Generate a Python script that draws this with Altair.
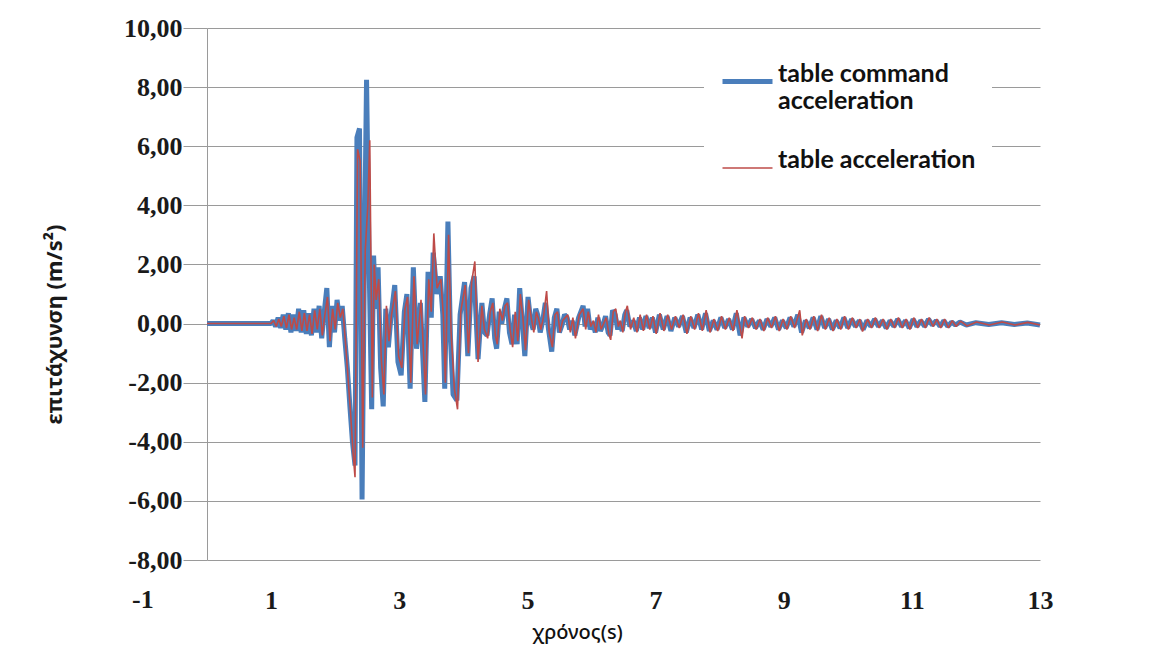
import altair as alt
import pandas as pd

# ---- data (time s, acceleration m/s^2) ----
cmd_samples = [
    (0.00, 0.0), (1.00, 0.0), (1.03, 0.1), (1.07, -0.1), (1.11, 0.2), (1.15, -0.15),
    (1.19, 0.3), (1.23, -0.2), (1.27, 0.35), (1.31, -0.3), (1.35, 0.3), (1.39, -0.25),
    (1.43, 0.5), (1.47, -0.3), (1.51, 0.45), (1.55, -0.35), (1.59, 0.35), (1.63, -0.4),
    (1.67, 0.5), (1.71, -0.3), (1.75, 0.6), (1.79, -0.5), (1.83, 0.4), (1.87, 1.2),
    (1.91, -0.8), (1.95, 0.6), (1.99, -0.3), (2.03, 0.8), (2.07, 0.1), (2.11, 0.6),
    (2.15, -0.5), (2.19, -1.5), (2.23, -2.8), (2.27, -4.0), (2.31, -4.8), (2.34, 6.3),
    (2.38, 6.6), (2.42, -5.95), (2.46, 3.0), (2.49, 8.25), (2.53, 2.0), (2.57, -2.9),
    (2.60, 2.3), (2.63, 0.5), (2.67, 1.9), (2.71, -1.5), (2.75, -2.8), (2.79, 0.5),
    (2.83, -0.8), (2.87, 0.2), (2.93, 1.3), (2.98, -1.3), (3.03, -1.75), (3.08, 0.4),
    (3.12, 1.0), (3.17, -2.2), (3.22, 1.9), (3.27, -0.85), (3.33, 0.7), (3.40, -2.65),
    (3.45, 1.75), (3.50, 0.2), (3.53, 2.4), (3.59, 1.0), (3.64, 1.6), (3.68, 0.3),
    (3.71, -2.2), (3.76, 3.45), (3.80, -0.5), (3.84, -2.4), (3.90, -2.6), (3.95, 0.3),
    (4.02, 1.4), (4.07, -1.1), (4.12, 1.2), (4.17, 1.6), (4.23, -1.2), (4.29, 0.7),
    (4.33, -0.3), (4.37, -0.4), (4.41, 0.3), (4.45, 0.85), (4.49, -0.5), (4.52, -0.85),
    (4.56, 0.4), (4.60, 0.0), (4.64, 0.5), (4.68, 0.85), (4.72, -0.3), (4.76, -0.7),
    (4.80, 0.3), (4.84, -0.7), (4.88, 1.2), (4.92, 0.1), (4.96, -1.1), (5.01, 0.9),
    (5.05, 0.1), (5.09, -0.2), (5.13, 0.5), (5.16, 0.3), (5.20, -0.3), (5.24, 0.1),
    (5.28, 0.7), (5.33, -0.2), (5.38, -0.95), (5.42, 0.2), (5.46, 0.5), (5.50, -0.3),
    (5.54, -0.05), (5.58, 0.3), (5.62, 0.2), (5.66, -0.2), (5.70, 0.1), (5.74, -0.4),
    (5.80, 0.2), (5.87, 0.6), (5.90, -0.1), (5.94, 0.5), (5.98, -0.2), (6.02, 0.05),
    (6.06, -0.3), (6.10, 0.2), (6.14, -0.25), (6.18, -0.05), (6.22, 0.25), (6.26, -0.3),
    (6.29, -0.4), (6.33, 0.45), (6.37, 0.3), (6.41, -0.2), (6.44, 0.05), (6.48, -0.25),
    (6.52, 0.3), (6.55, 0.45), (6.60, -0.1), (6.65, 0.1), (6.70, -0.25), (6.75, 0.2),
    (6.80, -0.2), (6.85, 0.25), (6.90, -0.15), (6.95, 0.2), (7.00, -0.3), (7.06, 0.3),
    (7.12, -0.2), (7.18, 0.25), (7.24, -0.25), (7.30, 0.2), (7.36, -0.1), (7.42, 0.25),
    (7.48, -0.3), (7.54, 0.2), (7.60, -0.15), (7.66, 0.3), (7.72, -0.2), (7.78, 0.35),
    (7.84, -0.25), (7.90, 0.1), (7.96, -0.2), (8.02, 0.2), (8.08, -0.15), (8.14, 0.15),
    (8.20, -0.2), (8.26, 0.35), (8.32, -0.4), (8.38, 0.2), (8.44, -0.1), (8.50, 0.15),
    (8.56, -0.15), (8.62, 0.1), (8.68, -0.2), (8.74, 0.15), (8.80, -0.1), (8.86, 0.2),
    (8.92, -0.2), (8.98, 0.1), (9.04, -0.15), (9.10, 0.2), (9.16, -0.1), (9.22, 0.3),
    (9.28, -0.3), (9.34, 0.1), (9.40, -0.15), (9.46, 0.2), (9.52, -0.2), (9.58, 0.25),
    (9.64, -0.15), (9.70, 0.15), (9.76, -0.2), (9.82, 0.1), (9.88, -0.15), (9.94, 0.2),
    (10.00, -0.15), (10.06, 0.15), (10.12, -0.1), (10.18, 0.1), (10.24, -0.2), (10.30, 0.1),
    (10.36, -0.1), (10.42, 0.15), (10.48, -0.1), (10.54, 0.1), (10.60, -0.15), (10.66, 0.1),
    (10.72, -0.1), (10.78, 0.15), (10.84, -0.1), (10.90, 0.1), (10.96, -0.15), (11.02, 0.15),
    (11.08, -0.1), (11.14, 0.1), (11.20, -0.1), (11.26, 0.15), (11.32, -0.05), (11.38, 0.1),
    (11.44, -0.1), (11.50, 0.1), (11.56, -0.1), (11.62, 0.05), (11.68, -0.05), (11.75, 0.05),
    (11.85, -0.05), (12.00, 0.03), (12.20, -0.03), (12.40, 0.03), (12.60, -0.03), (12.80, 0.02),
    (13.00, -0.05),
]

tab_samples = [
    (0.00, 0.0), (1.00, 0.0), (1.04, 0.1), (1.08, -0.1), (1.12, 0.15), (1.16, -0.1),
    (1.20, 0.25), (1.24, -0.15), (1.28, 0.3), (1.32, -0.2), (1.36, 0.2), (1.40, -0.2),
    (1.44, 0.4), (1.48, -0.25), (1.52, 0.35), (1.56, -0.25), (1.60, 0.3), (1.64, -0.35),
    (1.68, 0.45), (1.72, -0.2), (1.76, 0.5), (1.80, -0.4), (1.84, 0.3), (1.88, 0.9),
    (1.92, -0.6), (1.96, 0.5), (2.00, -0.2), (2.04, 0.7), (2.08, 0.2), (2.12, 0.5),
    (2.16, -0.6), (2.20, -1.8), (2.24, -3.0), (2.28, -4.4), (2.31, -5.2), (2.35, 5.9),
    (2.39, 5.5), (2.43, -4.2), (2.47, 2.5), (2.51, 4.0), (2.54, 6.2), (2.58, -2.5),
    (2.61, 2.0), (2.64, 0.8), (2.68, 1.5), (2.72, -1.2), (2.76, -2.4), (2.80, 0.6),
    (2.84, -0.6), (2.88, 0.3), (2.94, 1.1), (2.99, -1.1), (3.04, -1.5), (3.09, 0.5),
    (3.13, 0.9), (3.18, -2.0), (3.23, 1.6), (3.28, -0.7), (3.34, 0.8), (3.41, -2.4),
    (3.46, 1.5), (3.50, 0.4), (3.54, 3.05), (3.59, 1.2), (3.65, 1.5), (3.69, 0.2),
    (3.72, -2.0), (3.77, 3.0), (3.81, -0.3), (3.86, -2.2), (3.91, -2.9), (3.96, 0.4),
    (4.03, 1.3), (4.08, -1.0), (4.13, 1.4), (4.18, 2.1), (4.23, -1.3), (4.29, 0.6),
    (4.33, -0.2), (4.38, -0.5), (4.42, 0.4), (4.46, 0.7), (4.50, -0.4), (4.53, -0.7),
    (4.57, 0.5), (4.61, 0.1), (4.65, 0.6), (4.69, 0.7), (4.73, -0.2), (4.77, -0.8),
    (4.81, 0.4), (4.85, -0.6), (4.89, 1.0), (4.93, 0.2), (4.97, -0.9), (5.02, 0.8),
    (5.06, 0.2), (5.10, -0.3), (5.14, 0.4), (5.17, 0.2), (5.21, -0.2), (5.25, 0.2),
    (5.30, 1.1), (5.34, -0.3), (5.39, -0.8), (5.43, 0.3), (5.47, 0.4), (5.51, -0.3),
    (5.55, 0.1), (5.59, 0.2), (5.63, 0.3), (5.67, -0.3), (5.71, 0.2), (5.75, -0.5),
    (5.81, 0.3), (5.87, 0.5), (5.91, -0.2), (5.95, 0.4), (5.99, -0.1), (6.03, 0.1),
    (6.07, -0.3), (6.11, 0.3), (6.15, -0.2), (6.19, 0.0), (6.23, 0.2), (6.27, -0.35),
    (6.30, -0.55), (6.34, 0.4), (6.38, 0.5), (6.42, -0.1), (6.45, 0.1), (6.49, -0.3),
    (6.53, 0.4), (6.56, 0.6), (6.61, -0.2), (6.66, 0.2), (6.71, -0.3), (6.76, 0.3),
    (6.81, -0.25), (6.86, 0.3), (6.91, -0.2), (6.96, 0.25), (7.01, -0.35), (7.07, 0.35),
    (7.13, -0.25), (7.19, 0.3), (7.25, -0.2), (7.31, 0.25), (7.37, -0.15), (7.43, 0.3),
    (7.49, -0.35), (7.55, 0.25), (7.61, -0.2), (7.67, 0.35), (7.73, -0.25), (7.79, 0.45),
    (7.85, -0.3), (7.91, 0.15), (7.97, -0.25), (8.03, 0.25), (8.09, -0.2), (8.15, 0.2),
    (8.21, -0.25), (8.27, 0.45), (8.35, -0.5), (8.39, 0.25), (8.45, -0.15), (8.51, 0.2),
    (8.57, -0.2), (8.63, 0.15), (8.69, -0.25), (8.75, 0.2), (8.81, -0.15), (8.87, 0.25),
    (8.93, -0.25), (8.99, 0.15), (9.05, -0.2), (9.11, 0.25), (9.17, -0.15), (9.25, 0.45),
    (9.29, -0.4), (9.35, 0.15), (9.41, -0.2), (9.47, 0.25), (9.53, -0.25), (9.59, 0.3),
    (9.65, -0.2), (9.71, 0.2), (9.77, -0.25), (9.83, 0.15), (9.89, -0.2), (9.95, 0.25),
    (10.01, -0.2), (10.07, 0.2), (10.13, -0.15), (10.19, 0.15), (10.23, -0.27), (10.31, 0.15),
    (10.37, -0.15), (10.43, 0.2), (10.49, -0.15), (10.55, 0.15), (10.61, -0.2), (10.67, 0.15),
    (10.73, -0.15), (10.79, 0.2), (10.85, -0.15), (10.91, 0.15), (10.97, -0.2), (11.03, 0.2),
    (11.09, -0.15), (11.15, 0.15), (11.21, -0.15), (11.27, 0.2), (11.33, -0.1), (11.39, 0.15),
    (11.45, -0.15), (11.51, 0.15), (11.57, -0.15), (11.63, 0.1), (11.69, -0.1), (11.76, 0.08),
    (11.86, -0.08), (12.01, 0.05), (12.21, -0.05), (12.41, 0.05), (12.61, -0.05), (12.81, 0.04),
    (13.00, -0.05),
]

series_names = ["table command acceleration", "table acceleration"]
series_colors = ["#4A7EBB", "#BE4B48"]
series_widths = [5, 1.6]
x_ticks = [1, 3, 5, 7, 9, 11, 13]
x_outside_ticks = [-1]
y_ticks = [-8, -6, -4, -2, 0, 2, 4, 6, 8, 10]

rows = [{"t": t, "a": a, "series": series_names[0]} for t, a in cmd_samples]
rows += [{"t": t, "a": a, "series": series_names[1]} for t, a in tab_samples]
df = pd.DataFrame(rows)
df_outside = pd.DataFrame({"t": x_outside_ticks})

tick_font = dict(font="Liberation Serif", fontWeight="bold", fontSize=26, color="#1a1a1a")

legend_cfg = dict(
    title=None, orient="none", legendX=497, legendY=10,
    symbolType="stroke", symbolSize=2500,
    labelFont="Lato", labelFontSize=25, labelFontWeight="bold", labelColor="#111111",
    labelLimit=400, labelOffset=3, labelBaseline="alphabetic",
    labelExpr="datum.label == 'table command acceleration' ? ['table command', 'acceleration'] : datum.label",
    fillColor="white", padding=16, rowPadding=28,
)

color = alt.Color("series:N", scale=alt.Scale(domain=series_names, range=series_colors),
                  legend=alt.Legend(**legend_cfg))
swidth = alt.StrokeWidth("series:N", scale=alt.Scale(domain=series_names, range=series_widths),
                         legend=alt.Legend(**legend_cfg))

x_scale = alt.Scale(domain=[0, 13], nice=False, zero=False)
x = alt.X("t:Q", scale=x_scale,
          axis=alt.Axis(values=x_ticks, grid=False, domain=False, ticks=False,
                        labelExpr="(datum.value < 0 ? '-' : '') + abs(datum.value)",
                        labelFont=tick_font["font"], labelFontWeight="bold", labelFontSize=26,
                        labelColor="#1a1a1a", labelPadding=27, labelFlush=False, labelOverlap=False,
                        title="χρόνος(s)", titleFont="Noto Sans", titleFontSize=20,
                        titleFontWeight=500, titleColor="#111111",
                        titleX=370, titleY=72, titleBaseline="middle", titleAlign="center"))
y = alt.Y("a:Q", scale=alt.Scale(domain=[-8, 10], nice=False, zero=False),
          axis=alt.Axis(values=y_ticks, grid=True, domain=True, ticks=True, tickSize=24,
                        labelExpr="replace((datum.value < 0 ? '-' : '') + format(abs(datum.value), '.2f'), '.', ',')",
                        labelFont=tick_font["font"], labelFontWeight="bold", labelFontSize=26,
                        labelColor="#1a1a1a", labelPadding=1, labelFlush=False, labelOverlap=False,
                        title="επιτάχυνση (m/s²)", titleFont="Noto Sans", titleFontSize=22,
                        titleFontWeight="bold", titleColor="#1a1a1a",
                        titleX=-153, titleY=296, titleBaseline="middle", titleAlign="center"))

base = alt.Chart(df).mark_line(strokeJoin="bevel").encode(x=x, y=y, color=color, strokeWidth=swidth)
blue = base.transform_filter(alt.datum.series == series_names[0])
red = base.transform_filter(alt.datum.series == series_names[1])

# the "-1" tick label that Excel prints left of the value axis
outside_label = alt.Chart(df_outside).transform_calculate(
    label="(datum.t < 0 ? '-' : '') + abs(datum.t)"
).mark_text(
    baseline="top", align="center", **tick_font
).encode(
    x=alt.X("t:Q", scale=x_scale),
    y=alt.value(559),
    text="label:N",
)

chart = alt.layer(blue, red, outside_label).properties(
    width=833, height=532,
    padding={"left": 199, "top": 20, "right": 90, "bottom": 95},
    autosize=alt.AutoSizeParams(type="none"),
    background="white",
).configure_axis(
    gridColor="#9a9a9a", domainColor="#9a9a9a", tickColor="#9a9a9a",
    gridWidth=1, domainWidth=1, tickWidth=1,
).configure_view(strokeWidth=0)

chart.save("out.html", embed_options={"renderer": "svg", "actions": False})
